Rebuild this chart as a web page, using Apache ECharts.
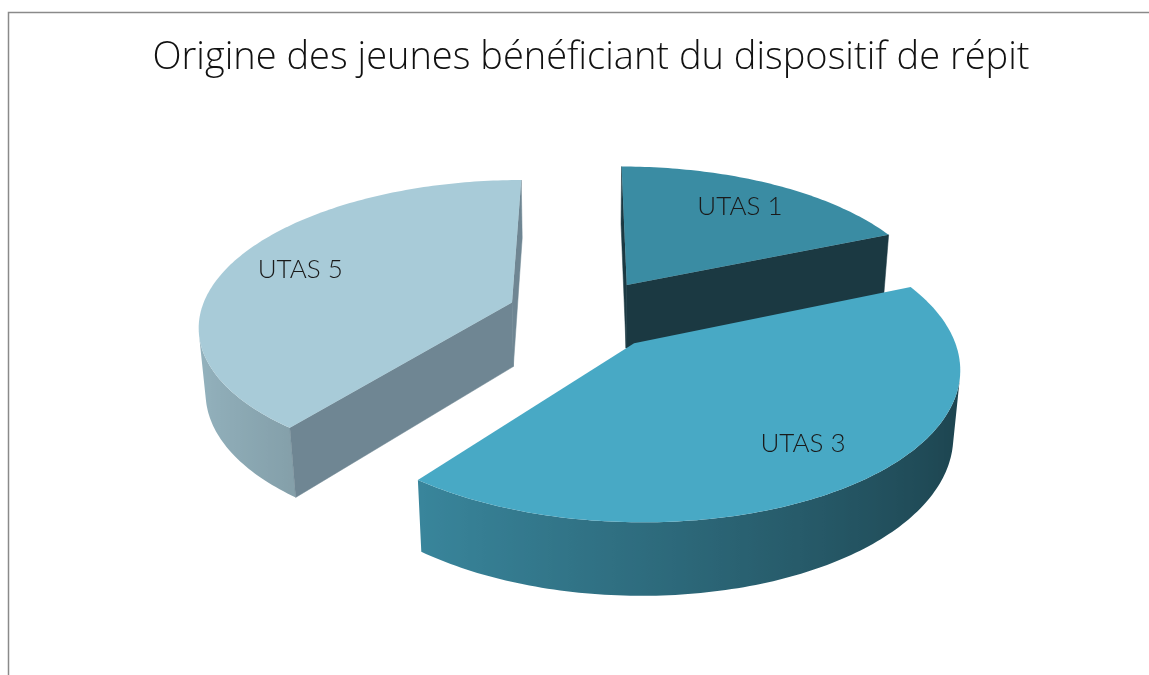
<!DOCTYPE html>
<html><head><meta charset="utf-8">
<script src="https://cdn.jsdelivr.net/npm/echarts@6/dist/echarts.min.js"></script>
<style>html,body{margin:0;padding:0;background:#fff}#chart{width:1149px;height:675px}</style>
</head><body><div id="chart"></div>
<script>
// ---- data ----
const chartTitle = 'Origine des jeunes bénéficiant du dispositif de répit';
const categories = ['UTAS 1', 'UTAS 3', 'UTAS 5'];
const values = [8, 18, 17];

// ---- styles ----
const topColors = ['#3a8ca3', '#48a9c5', '#a8cbd8'];
const cutColors = ['#1b3942', '#1d434f', '#6f8693'];

// ---- 3D pie geometry (layout) ----
const G = {cx: 585, cy: 314, R: 312, h: 74, sinA: 0.46, D: 1900, explode: 78, labelR: 0.76};
G.cosA = Math.sqrt(1 - G.sinA * G.sinA);

function project(X, Y, Z) {
  const d = Z * G.cosA + Y * G.sinA;
  const v = Y * G.cosA - Z * G.sinA;
  const f = G.D / (G.D - d);
  return [G.cx + X * f, G.cy - v * f];
}
function area(p) {
  let s = 0;
  for (let i = 0; i < p.length; i++) {
    const a = p[i], b = p[(i + 1) % p.length];
    s += a[0] * b[1] - b[0] * a[1];
  }
  return s / 2;
}
function shade(hex, k) {
  const n = parseInt(hex.slice(1), 16);
  const c = [(n >> 16) & 255, (n >> 8) & 255, n & 255].map(x => Math.max(0, Math.min(255, Math.round(x * k))));
  return 'rgb(' + c.join(',') + ')';
}

const total = values.reduce((a, b) => a + b, 0);
const starts = [];
(function () { let acc = 0; values.forEach(v => { starts.push(acc / total * 360); acc += v; }); })();
const midDepth = values.map((v, i) => -Math.cos((starts[i] + v / total * 180) * Math.PI / 180));
const order = values.map((v, i) => i).sort((a, b) => midDepth[a] - midDepth[b]);
const rank = []; order.forEach((idx, r) => { rank[idx] = r; });

function renderItem(params, api) {
  const i = params.dataIndex;
  const v = api.value(0);
  const a0 = starts[i], a1 = a0 + v / total * 360;
  const midDeg = (a0 + a1) / 2;
  const mid = midDeg * Math.PI / 180;
  const ox = G.explode * Math.sin(mid), oz = -G.explode * Math.cos(mid);
  const pt = (deg, r, Y) => {
    const t = deg * Math.PI / 180;
    return project(ox + r * Math.sin(t), Y, oz - r * Math.cos(t));
  };
  const steps = Math.max(2, Math.ceil(a1 - a0));
  const topArc = [], botArc = [];
  for (let k = 0; k <= steps; k++) {
    const deg = a0 + (a1 - a0) * k / steps;
    topArc.push(pt(deg, G.R, 0));
    botArc.push(pt(deg, G.R, -G.h));
  }
  const apexT = pt(0, 0, 0), apexB = pt(0, 0, -G.h);
  const base = rank[i] * 10;
  const children = [];
  // outer wall: contiguous visible runs, one polygon each with a horizontal gradient
  let run = null;
  const runs = [];
  for (let k = 0; k < steps; k++) {
    const quad = [topArc[k], topArc[k + 1], botArc[k + 1], botArc[k]];
    if (area(quad) < 0) {
      if (!run) { run = {from: k, to: k}; runs.push(run); }
      run.to = k + 1;
    } else run = null;
  }
  runs.forEach(rn => {
    const pts = [];
    for (let k = rn.from; k <= rn.to; k++) pts.push(topArc[k]);
    for (let k = rn.to; k >= rn.from; k--) pts.push(botArc[k]);
    const xs = [];
    for (let k = rn.from; k <= rn.to; k++) xs.push(topArc[k][0]);
    const xmin = Math.min.apply(null, xs), xmax = Math.max.apply(null, xs);
    const stops = [];
    for (let k = rn.from; k <= rn.to; k++) {
      const phi = (a0 + (a1 - a0) * k / steps) * Math.PI / 180;
      stops.push({offset: (topArc[k][0] - xmin) / Math.max(1, xmax - xmin),
        color: shade(topColors[i], 0.64 - 0.244 * Math.sin(phi))});
    }
    stops.sort((p, q) => p.offset - q.offset);
    children.push({type: 'polygon', z2: base + 1, shape: {points: pts},
      style: {fill: {type: 'linear', x: xmin, y: 0, x2: xmax, y2: 0, global: true, colorStops: stops}}});
  });
  // cut faces
  const sFace = [apexT, topArc[0], botArc[0], apexB];
  if (area(sFace) < 0) children.push({type: 'polygon', z2: base + 2, shape: {points: sFace},
    style: {fill: cutColors[i], stroke: cutColors[i], lineWidth: 0.5}});
  const eFace = [apexT, topArc[steps], botArc[steps], apexB];
  if (area(eFace) > 0) children.push({type: 'polygon', z2: base + 2, shape: {points: eFace},
    style: {fill: cutColors[i], stroke: cutColors[i], lineWidth: 0.5}});
  // top face
  children.push({type: 'polygon', z2: base + 3, shape: {points: [apexT].concat(topArc)},
    style: {fill: topColors[i]}});
  // label
  const lp = pt(midDeg, G.R * G.labelR, 0);
  children.push({type: 'text', z2: 100, style: {text: categories[i], x: lp[0], y: lp[1],
    align: 'center', verticalAlign: 'middle', fill: '#1a1a1a',
    fontFamily: 'Lato', fontWeight: 300, fontSize: 26}});
  return {type: 'group', children: children};
}

const chart = echarts.init(document.getElementById('chart'), null, {renderer: 'canvas'});
chart.setOption({
  animation: false,
  backgroundColor: '#ffffff',
  title: {text: chartTitle, left: 586, top: 34, textAlign: 'center',
    textStyle: {fontFamily: 'Open Sans', fontWeight: 300, fontSize: 38, color: '#111111'}},
  graphic: [{type: 'rect', shape: {x: 8.5, y: 12.5, width: 1200, height: 700},
    style: {fill: 'none', stroke: '#8a8a8a', lineWidth: 1.5}, z: -1}],
  series: [{
    type: 'custom',
    coordinateSystem: 'none',
    renderItem: renderItem,
    data: values.map((v, i) => ({name: categories[i], value: [v]}))
  }]
});
</script></body></html>
